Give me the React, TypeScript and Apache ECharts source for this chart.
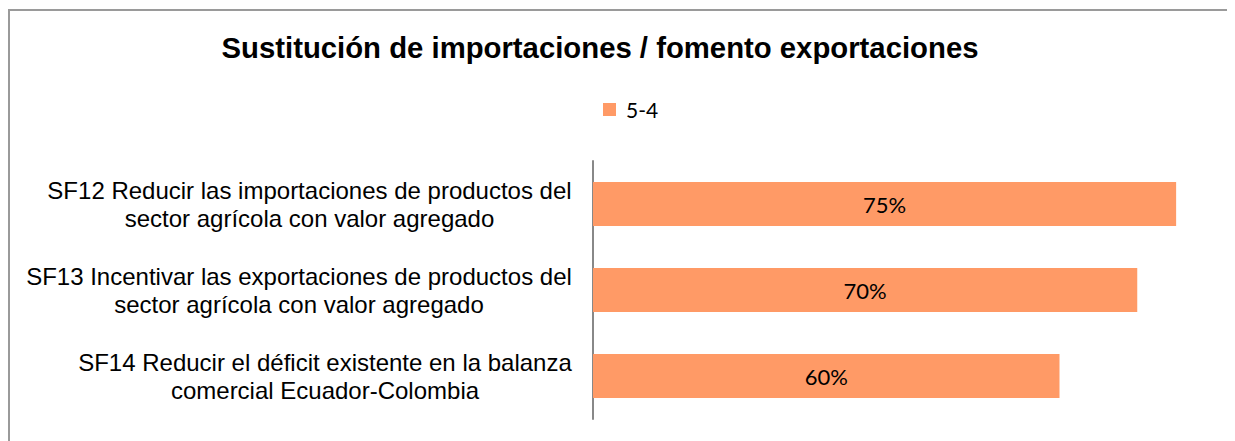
import React, { useEffect, useRef } from "react";
import * as echarts from "echarts";

const titleText = "Sustitución de importaciones / fomento exportaciones";
const seriesName = "5-4";
const categories = [
  "SF12 Reducir las importaciones de productos del\nsector agrícola con valor agregado",
  "SF13 Incentivar las exportaciones de productos del\nsector agrícola con valor agregado",
  "SF14 Reducir el déficit existente en la balanza\ncomercial Ecuador-Colombia",
];
const values = [0.75, 0.7, 0.6];

const LABEL_FONT = "Liberation Sans";
const LABEL_SIZE = 24;

function measure(text: string): number {
  const c = document.createElement("canvas").getContext("2d");
  if (!c) return text.length * LABEL_SIZE * 0.5;
  c.font = `${LABEL_SIZE}px "${LABEL_FONT}"`;
  return c.measureText(text).width;
}

export default function App() {
  const ref = useRef<HTMLDivElement>(null);
  useEffect(() => {
    if (!ref.current) return;
    const chart = echarts.init(ref.current, null, { renderer: "svg" });
    const rich: Record<string, any> = {};
    categories.forEach((cat, i) => {
      const w = Math.ceil(Math.max(...cat.split("\n").map(measure))) + 2;
      rich["c" + i] = {
        width: w,
        align: "center",
        fontFamily: LABEL_FONT,
        fontSize: LABEL_SIZE,
        lineHeight: 28,
        color: "#000000",
      };
    });
    chart.setOption({
      animation: false,
      backgroundColor: "#ffffff",
      title: {
        text: titleText,
        left: 587,
        top: 20,
        textAlign: "center",
        textStyle: {
          fontFamily: "Liberation Sans",
          fontWeight: "bold",
          fontSize: 29.3,
          color: "#000000",
        },
      },
      legend: {
        data: [seriesName],
        left: 590,
        top: 86,
        itemWidth: 13,
        itemHeight: 13,
        icon: "rect",
        textStyle: {
          fontFamily: "Lato",
          fontSize: 21,
          color: "#000000",
          padding: [0, 0, 0, 5],
        },
      },
      grid: { left: 585, right: 20, top: 153, bottom: 22 },
      xAxis: {
        type: "value",
        min: 0,
        max: 0.8,
        show: false,
        splitLine: { show: false },
      },
      yAxis: {
        type: "category",
        data: categories,
        inverse: true,
        axisLine: { show: true, lineStyle: { color: "#888888", width: 2 } },
        axisTick: { show: false },
        axisLabel: {
          margin: 20,
          fontFamily: LABEL_FONT,
          fontSize: LABEL_SIZE,
          lineHeight: 28,
          color: "#000000",
          align: "right",
          formatter: (v: string, idx: number) =>
            v
              .split("\n")
              .map((l) => `{c${idx}|${l}}`)
              .join("\n"),
          rich,
        },
      },
      series: [
        {
          name: seriesName,
          type: "bar",
          data: values,
          barWidth: "51%",
          itemStyle: { color: "#FF9A66" },
          label: {
            show: true,
            position: "inside",
            formatter: (p: any) => Math.round(p.value * 100) + "%",
            fontFamily: "Lato",
            fontSize: 22,
            color: "#000000",
          },
        },
      ],
      graphic: [
        {
          type: "rect",
          shape: { x: 1, y: 2, width: 1400, height: 600 },
          style: { fill: "none", stroke: "#9a9a9a", lineWidth: 2 },
          silent: true,
        },
      ],
    });
    return () => chart.dispose();
  }, []);
  return (
    <div
      ref={ref}
      style={{ width: 1227, height: 433, overflow: "hidden" }}
    />
  );
}
